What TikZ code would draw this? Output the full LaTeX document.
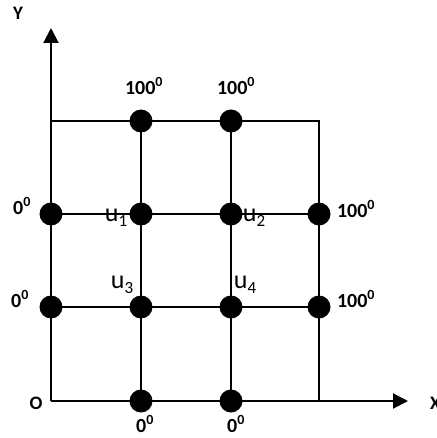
\documentclass[tikz,border=0pt]{standalone}
\usepackage{fontspec}
\setmainfont{Carlito}
\usetikzlibrary{arrows.meta}
\newcommand{\tdeg}[1]{#1\textsuperscript{0}}
\newcommand{\usub}[1]{u\raisebox{-4.5pt}{\fontsize{17}{17}\selectfont #1}}
\begin{document}
\begin{tikzpicture}[x=1pt,y=-1pt,
  gridline/.style={line width=1.5pt},
  axisline/.style={line width=2pt,-{Triangle[length=15pt,width=15pt]}},
  dot/.style={circle,fill=black,inner sep=0pt,minimum size=23pt},
  templabel/.style={font=\bfseries\fontsize{20}{20}\selectfont,inner sep=0pt},
  ulabel/.style={font=\fontsize{26}{26}\selectfont,inner sep=0pt},
  axlabel/.style={font=\bfseries\fontsize{19}{19}\selectfont,inner sep=0pt}]
\useasboundingbox (0,0) rectangle (436,438);
% corners and axis ends
\coordinate (o) at (51,401);
\coordinate (tl) at (51,121);
\coordinate (tr) at (319,121);
\coordinate (br) at (319,401);
\coordinate (yend) at (51,28);
\coordinate (xend) at (408,401);
\coordinate (t1) at (141,121);
\coordinate (t2) at (231,121);
\coordinate (a1) at (51,214);
\coordinate (a2) at (141,214);
\coordinate (a3) at (231,214);
\coordinate (a4) at (319,214);
\coordinate (b1) at (51,307);
\coordinate (b2) at (141,307);
\coordinate (b3) at (231,307);
\coordinate (b4) at (319,307);
\coordinate (c1) at (141,401);
\coordinate (c2) at (231,401);
% lines
\draw[gridline] (tl) -- (tr) -- (br);
\draw[gridline] (a1) -- (a4);
\draw[gridline] (b1) -- (b4);
\draw[gridline] (t1) -- (c1);
\draw[gridline] (t2) -- (c2);
\draw[axisline] (o) -- (yend);
\draw[axisline] (o) -- (xend);
% dots
\foreach \p in {t1,t2,a1,a2,a3,a4,b1,b2,b3,b4,c1,c2}
  \node[dot] (d\p) at (\p) {};
% labels
\node[axlabel] (ly) at (18,13) {Y};
\node[axlabel,anchor=west] (lx) at (430,403) {X};
\node[axlabel] (lo) at (36,403) {O};
\node[templabel] (lt1) at (144,86) {\tdeg{100}};
\node[templabel] (lt2) at (236,86) {\tdeg{100}};
\node[templabel] (la1) at (22,206) {\tdeg{0}};
\node[templabel] (lb1) at (20,299) {\tdeg{0}};
\node[templabel] (la4) at (356,209) {\tdeg{100}};
\node[templabel] (lb4) at (356,299) {\tdeg{100}};
\node[templabel] (lc1) at (145,424) {\tdeg{0}};
\node[templabel] (lc2) at (236,424) {\tdeg{0}};
\node[ulabel] (u1) at (116,218) {\usub{1}};
\node[ulabel] (u2) at (254,218) {\usub{2}};
\node[ulabel] (u3) at (122,285) {\usub{3}};
\node[ulabel] (u4) at (245,285) {\usub{4}};
\end{tikzpicture}
\end{document}
